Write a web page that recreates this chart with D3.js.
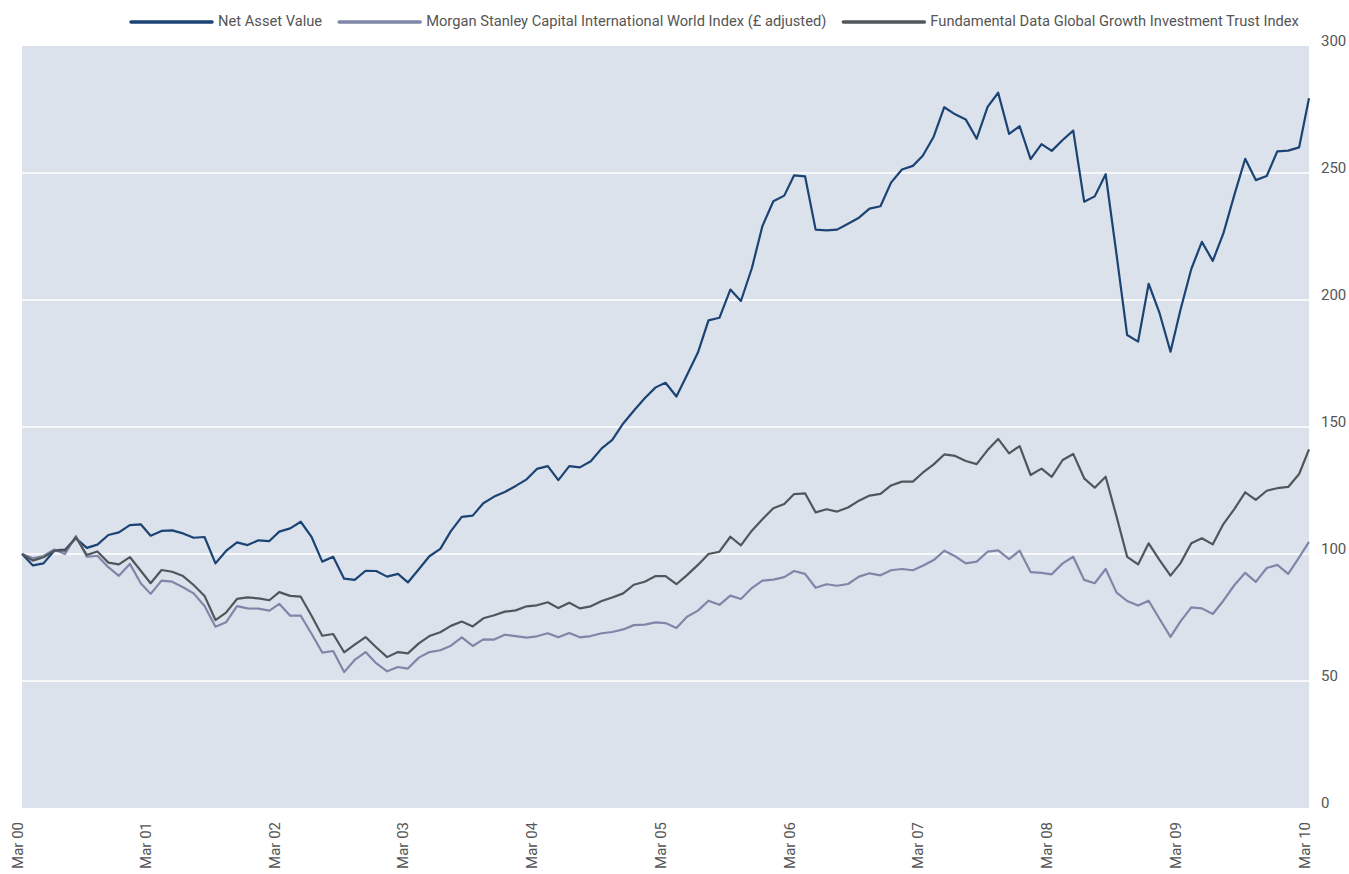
<!DOCTYPE html>
<html>
<head>
<meta charset="utf-8">
<script src="https://cdn.jsdelivr.net/npm/d3@7"></script>
<style>
  body { margin: 0; background: #fff; }
  svg { display: block; font-family: Roboto, "Liberation Sans", sans-serif; }
</style>
</head>
<body>
<div id="chart"></div>
<script>
// monthly values, Mar 2000 .. Mar 2010 (rebased to 100)
const nav = [100, 95.5, 96.3, 101.4, 101.7, 106.2, 102.4, 103.7, 107.5, 108.5, 111.4, 111.7,
  107.2, 109.1, 109.3, 108.1, 106.4, 106.7, 96.3, 101.2, 104.6, 103.5, 105.4, 105.1,
  108.8, 110.1, 112.7, 106.6, 97.0, 98.9, 90.3, 89.8, 93.4, 93.3, 91.1, 92.2,
  88.8, 94.0, 99.1, 102.0, 109.0, 114.6, 115.1, 120.0, 122.6, 124.4, 126.8, 129.4,
  133.5, 134.6, 129.1, 134.6, 134.1, 136.5, 141.6, 144.9, 151.4, 156.4, 161.3, 165.6,
  167.4, 162.0, 170.5, 179.3, 192.0, 193.0, 204.1, 199.6, 212.5, 229.1, 238.9, 241.1,
  249.1, 248.7, 227.7, 227.4, 227.7, 230.0, 232.4, 236.0, 236.9, 246.2, 251.4, 252.8,
  256.8, 264.3, 275.9, 273.1, 271.1, 263.5, 276.0, 281.6, 265.4, 268.4, 255.5, 261.4,
  258.7, 263.0, 266.7, 238.7, 240.8, 249.5, 217.8, 186.2, 183.6, 206.4, 194.8, 179.6,
  196.0, 212.2, 222.9, 215.4, 226.2, 241.3, 255.6, 247.2, 248.8, 258.5, 258.8, 260.1,
  279.4];

const msci = [100, 98.3, 99.2, 101.8, 100.0, 107.1, 98.9, 99.3, 94.8, 91.4, 96.1, 88.5,
  84.3, 89.5, 89.1, 86.9, 84.5, 79.5, 71.4, 73.1, 79.5, 78.6, 78.5, 77.7,
  80.4, 75.7, 75.7, 68.5, 61.2, 61.8, 53.5, 58.3, 61.4, 57.0, 53.8, 55.5,
  54.9, 59.2, 61.4, 62.1, 63.9, 67.2, 63.8, 66.4, 66.3, 68.2, 67.7, 67.1,
  67.6, 68.8, 67.2, 68.9, 67.2, 67.7, 68.8, 69.3, 70.3, 72.0, 72.2, 73.1,
  72.8, 70.9, 75.3, 77.7, 81.6, 80.0, 83.6, 82.3, 86.6, 89.5, 89.9, 90.9,
  93.3, 92.2, 86.7, 88.1, 87.5, 88.2, 91.1, 92.4, 91.6, 93.6, 94.1, 93.6,
  95.4, 97.6, 101.3, 99.1, 96.3, 97.0, 100.9, 101.4, 98.0, 101.3, 92.9, 92.6,
  92.0, 96.3, 98.9, 89.8, 88.5, 94.1, 84.8, 81.5, 79.7, 81.6, 74.4, 67.4,
  73.4, 79.0, 78.6, 76.4, 81.6, 87.7, 92.6, 89.0, 94.5, 95.7, 92.2, 98.7,
  104.8];

const fdIndex = [100, 97.4, 98.7, 101.3, 101.3, 106.6, 99.6, 101.0, 96.6, 95.9, 98.8, 93.4,
  88.5, 93.7, 93.0, 91.3, 87.8, 83.5, 74.0, 76.9, 82.3, 82.9, 82.5, 81.8,
  85.0, 83.5, 83.2, 75.6, 67.8, 68.5, 61.3, 64.3, 67.3, 63.3, 59.4, 61.4,
  60.9, 64.8, 67.7, 69.2, 71.7, 73.4, 71.5, 74.7, 75.9, 77.3, 77.8, 79.4,
  79.8, 81.0, 78.7, 80.8, 78.6, 79.4, 81.5, 82.9, 84.5, 87.9, 89.1, 91.3,
  91.3, 88.1, 91.7, 95.7, 100.0, 100.9, 106.8, 103.4, 109.2, 113.7, 118.0, 119.7,
  123.6, 123.9, 116.4, 117.6, 116.7, 118.3, 121.0, 123.0, 123.7, 127.0, 128.5, 128.5,
  132.0, 135.3, 139.2, 138.6, 136.6, 135.4, 140.9, 145.3, 139.6, 142.5, 131.1, 133.6,
  130.4, 137.0, 139.4, 129.8, 126.1, 130.4, 114.7, 98.9, 95.9, 104.2, 97.6, 91.5,
  96.3, 104.2, 106.2, 103.8, 111.8, 117.7, 124.3, 121.3, 124.9, 125.9, 126.4, 131.5,
  141.2];

const seriesNames = ["Net Asset Value", "Morgan Stanley Capital International World Index (\u00a3 adjusted)",
  "Fundamental Data Global Growth Investment Trust Index"];
const seriesColors = ["#1b4373", "#8086a8", "#50575b"];
const yTicks = [0, 50, 100, 150, 200, 250, 300];

const startMonth = new Date(2000, 2, 1);
const dates = nav.map((d, i) => d3.timeMonth.offset(startMonth, i));
const series = [nav, msci, fdIndex];

const width = 1349;
const height = 874;
const margin = { top: 46, right: 40, bottom: 66, left: 22 };

const svg = d3.select("#chart")
  .append("svg")
  .attr("width", width)
  .attr("height", height);

const x = d3.scaleTime()
  .domain([dates[0], dates[dates.length - 1]])
  .range([margin.left, width - margin.right]);

const y = d3.scaleLinear()
  .domain([0, 300])
  .range([height - margin.bottom, margin.top]);

// plot background
svg.append("rect")
  .attr("x", margin.left)
  .attr("y", margin.top)
  .attr("width", width - margin.left - margin.right)
  .attr("height", height - margin.top - margin.bottom)
  .attr("fill", "#dce2ec");

// gridlines
svg.append("g")
  .selectAll("line")
  .data(yTicks.filter(t => t > 0 && t < 300))
  .join("line")
  .attr("x1", margin.left)
  .attr("x2", width - margin.right)
  .attr("y1", d => y(d))
  .attr("y2", d => y(d))
  .attr("stroke", "#fff")
  .attr("stroke-width", 1.5);

// right axis
const yAxis = svg.append("g")
  .attr("transform", `translate(${width - margin.right}, 0)`)
  .call(d3.axisRight(y).tickValues(yTicks).tickSize(0).tickPadding(12));
yAxis.select(".domain").remove();
yAxis.selectAll("text")
  .attr("dy", -1)
  .attr("fill", "#555")
  .attr("font-size", 15)
  .attr("font-family", "Roboto, sans-serif");

// bottom axis, one label each March
const marchTicks = dates.filter(d => d.getMonth() === 2);
const xAxis = svg.append("g")
  .attr("transform", `translate(0, ${height - margin.bottom})`)
  .call(d3.axisBottom(x).tickValues(marchTicks).tickFormat(d3.timeFormat("Mar %y")).tickSize(0));
xAxis.select(".domain").remove();
xAxis.selectAll("text")
  .attr("transform", "rotate(-90)")
  .attr("text-anchor", "end")
  .attr("x", -14)
  .attr("y", 0)
  .attr("dy", 0)
  .attr("fill", "#555")
  .attr("font-size", 15)
  .attr("font-family", "Roboto, sans-serif");

// lines
const line = d3.line()
  .x((d, i) => x(dates[i]))
  .y(d => y(d));

svg.append("g")
  .selectAll("path")
  .data(series)
  .join("path")
  .attr("d", line)
  .attr("fill", "none")
  .attr("stroke", (d, i) => seriesColors[i])
  .attr("stroke-width", 2.2)
  .attr("stroke-linejoin", "round");

// legend
const legend = svg.append("g").attr("class", "legend");
let lx = 131;
seriesNames.forEach((name, i) => {
  legend.append("line")
    .attr("x1", lx).attr("x2", lx + 81)
    .attr("y1", 22).attr("y2", 22)
    .attr("stroke", seriesColors[i])
    .attr("stroke-width", 3.5)
    .attr("stroke-linecap", "round");
  const t = legend.append("text")
    .attr("x", lx + 87)
    .attr("y", 26)
    .attr("fill", "#555")
    .attr("font-size", 14.7)
    .text(name);
  lx += 87 + t.node().getComputedTextLength() + 17;
});
</script>
</body>
</html>
